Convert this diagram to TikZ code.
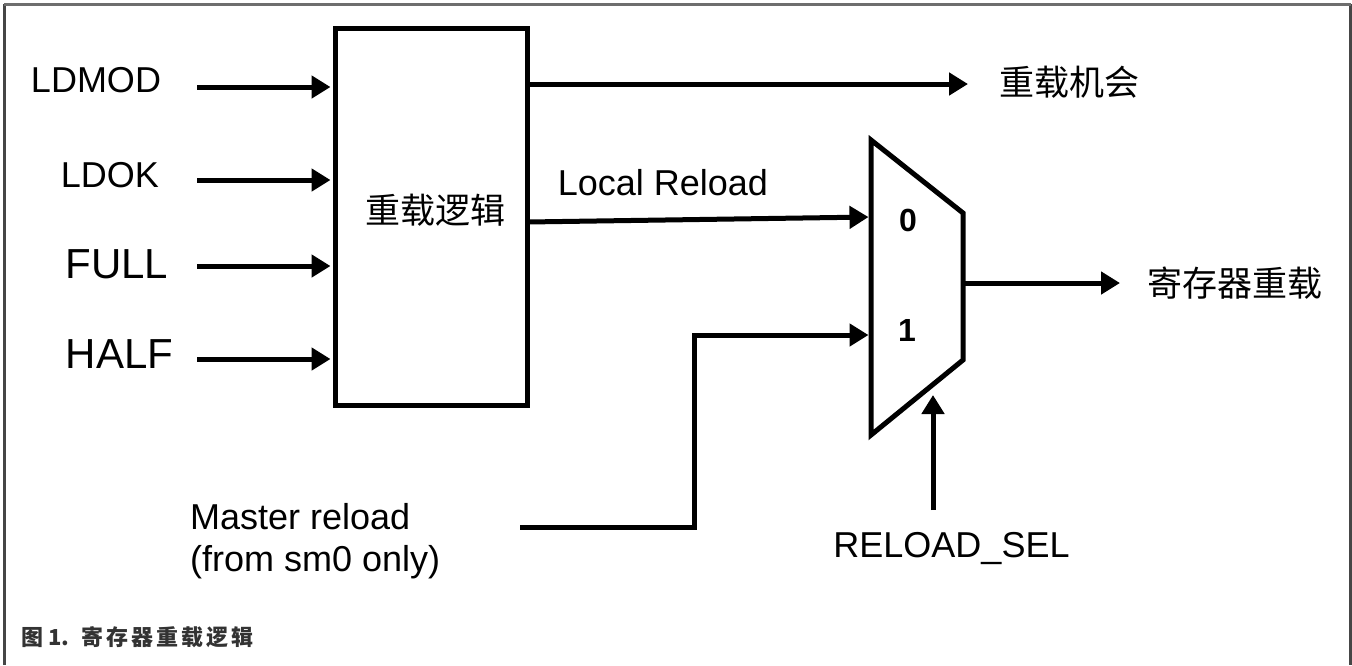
\documentclass[tikz,border=0pt]{standalone}
\usepackage{fontspec}
\setmainfont{Liberation Sans}
\newfontfamily\cjk{Noto Sans CJK SC}
\usetikzlibrary{arrows.meta}
\definecolor{framegray}{RGB}{70,70,70}
\definecolor{topgray}{RGB}{110,110,110}
\definecolor{capgray}{RGB}{51,51,51}
\begin{document}
\begin{tikzpicture}[x=1pt,y=-1pt,
  wire/.style={line width=5pt},
  arr/.style={wire,-{Triangle[length=19pt,width=22pt]}},
  lbl/.style={inner sep=0pt,font=\fontsize{36}{42}\selectfont},
  biglbl/.style={inner sep=0pt,font=\fontsize{42}{48}\selectfont},
  cjklbl/.style={inner sep=0pt,font=\cjk\fontsize{35}{40}\selectfont},
  portlbl/.style={inner sep=0pt,font=\bfseries\fontsize{32}{36}\selectfont},
  blockbox/.style={draw,line width=5pt,minimum width=192pt,minimum height=377pt,inner sep=0pt}]
\useasboundingbox (0,0) rectangle (1352,665);
% frame
\coordinate (fbl) at (4,665);
\coordinate (ftl) at (4,4);
\coordinate (ftr) at (1350.5,4);
\coordinate (fbr) at (1350.5,665);
\draw[framegray,line width=3pt] (fbl) -- (ftl);
\draw[framegray,line width=3pt] (ftr) -- (fbr);
\draw[topgray,line width=3pt] (ftl) -- (ftr);
% logic block
\node[blockbox] (box) at (431.5,217) {};
\node[cjklbl] (boxtxt) at (435,210) {重载逻辑};
% inputs
\node[lbl,anchor=base] (ldmod) at (96,92) {LDMOD};
\node[lbl,anchor=base] (ldok) at (110,187) {LDOK};
\node[biglbl,anchor=base] (full) at (117,278) {FULL};
\node[biglbl,anchor=base] (half) at (119.5,368) {HALF};
\coordinate (i1) at (197,87);
\coordinate (i2) at (197,180);
\coordinate (i3) at (197,266);
\coordinate (i4) at (197,359);
\foreach \c in {i1,i2,i3,i4}{
  \draw[arr,shorten >=2.5pt] (\c) -- (\c -| box.west);
}
% reload opportunity
\coordinate (o1) at (968,84);
\draw[arr] (o1 -| box.east) -- (o1);
\node[cjklbl] (t1) at (1069,82) {重载机会};
% mux
\coordinate (mTL) at (871,140);
\coordinate (mTR) at (963,213);
\coordinate (mBR) at (963,360);
\coordinate (mBL) at (871,435);
\draw[wire,line join=miter] (mTL) -- (mTR) -- (mBR) -- (mBL) -- cycle;
\coordinate (m0) at (871,217);
\coordinate (m1) at (871,335);
\coordinate (mo) at (963,283);
\node[portlbl] (p0) at (908,220) {0};
\node[portlbl] (p1) at (907,330) {1};
% local reload
\coordinate (lr) at (527.5,222);
\draw[arr,shorten >=2.5pt] (lr) -- (m0);
\node[lbl,anchor=base] (lrt) at (663,195) {Local Reload};
% output
\coordinate (oe) at (1120,283);
\draw[arr] (mo) -- (oe);
\node[cjklbl] (t2) at (1235,283) {寄存器重载};
% master reload
\coordinate (mrs) at (520,527);
\coordinate (mrc) at (694,527);
\draw[arr,shorten >=2.5pt] (mrs) -- (mrc) |- (m1);
\node[lbl,align=left,anchor=west] (mr) at (190,541) {Master reload\\(from sm0 only)};
% select
\coordinate (ss) at (933,510);
\coordinate (se) at (933,395);
\draw[arr] (ss) -- (se);
\node[lbl,anchor=base] (sel) at (951.5,557) {RELOAD\_SEL};
% caption
\node[inner sep=0pt,anchor=base west,text=capgray,font=\cjk\bfseries\fontsize{22}{25}\selectfont] (cap) at (21,645)
  {图\hspace{5pt}1.\hspace{12pt}寄\hspace{3pt}存\hspace{3pt}器\hspace{3pt}重\hspace{3pt}载\hspace{3pt}逻\hspace{3pt}辑};
\end{tikzpicture}
\end{document}
